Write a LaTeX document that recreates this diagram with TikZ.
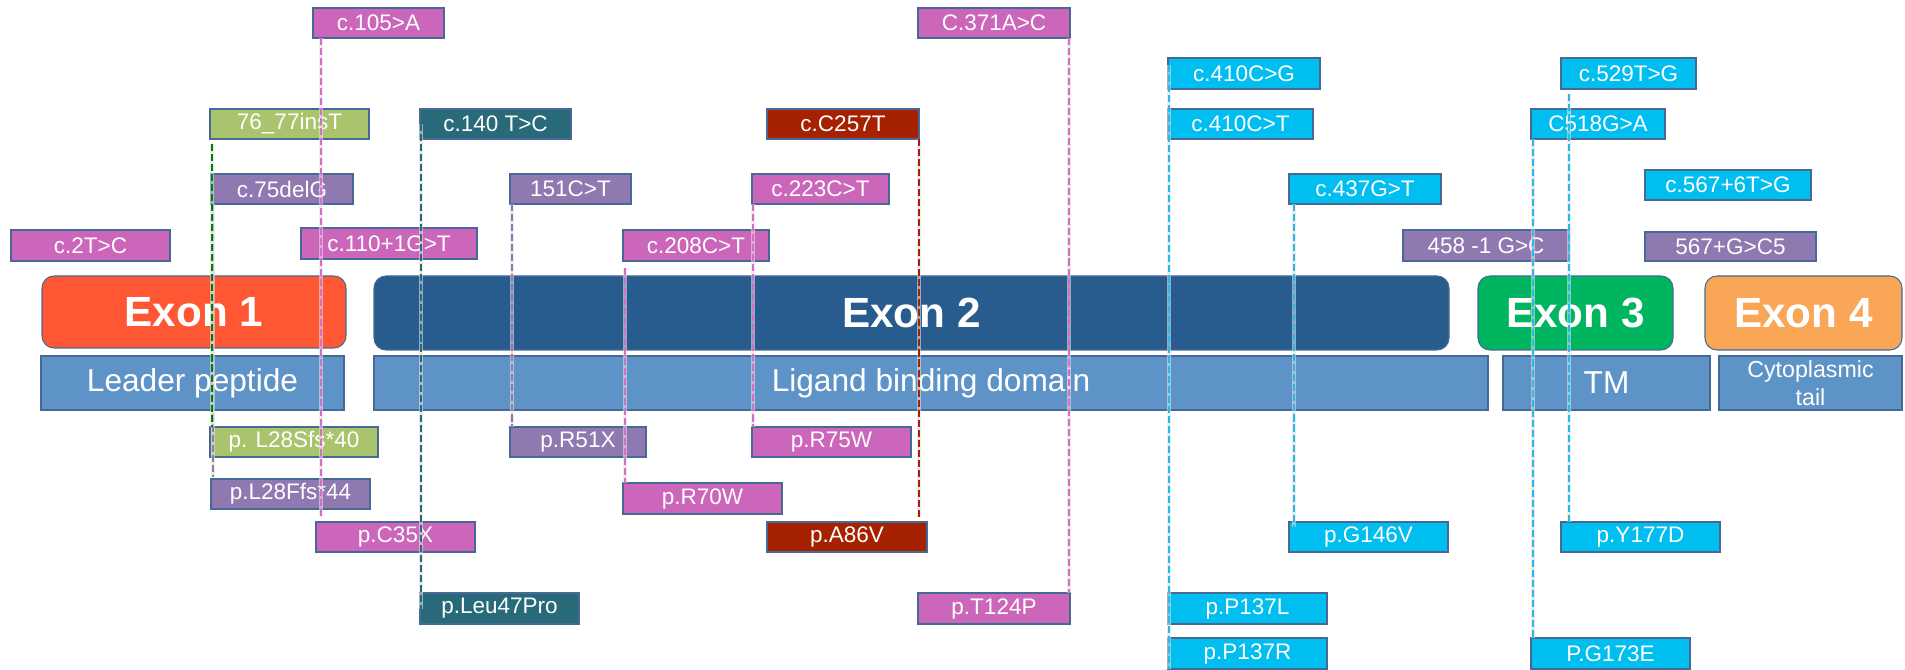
\documentclass[tikz,border=0pt]{standalone}
\usepackage{fontspec}
\setmainfont{Liberation Sans}
\definecolor{mag}{RGB}{204,102,187}
\definecolor{pur}{RGB}{144,120,176}
\definecolor{grn}{RGB}{169,196,108}
\definecolor{tea}{RGB}{40,106,122}
\definecolor{dred}{RGB}{165,33,0}
\definecolor{cya}{RGB}{0,190,240}
\definecolor{bord}{RGB}{70,105,150}
\definecolor{exa}{RGB}{255,87,51}
\definecolor{exb}{RGB}{40,92,142}
\definecolor{exc}{RGB}{0,181,96}
\definecolor{exd}{RGB}{250,166,87}
\definecolor{dom}{RGB}{94,147,200}
\definecolor{lmag}{RGB}{214,110,200}
\definecolor{lcya}{RGB}{40,185,235}
\definecolor{lgrn}{RGB}{0,128,0}
\newcommand\bx[7]{\node[#2, minimum width={(#5-#3)*0.01cm}, minimum height={(#6-#4)*0.01cm}, anchor=north west] (#1) at (#3,#4) {#7};}
\tikzset{
  lab/.style={draw=bord, line width=0.3pt, inner sep=0pt, outer sep=0pt, text=white, font=\fontsize{6.4}{7.5}\selectfont},
  exonbox/.style={draw=bord, line width=0.3pt, inner sep=0pt, outer sep=0pt, rounded corners=0.12cm, text=white, font=\fontsize{12}{14}\selectfont\bfseries},
  dombox/.style={draw=bord, line width=0.3pt, fill=dom, inner sep=0pt, outer sep=0pt, text=white, font=\fontsize{9}{10}\selectfont, align=center},
  dl/.style={line width=0.6pt, dash pattern=on 2pt off 0.85pt, preaction={draw=gray!25, line width=1.4pt, solid, opacity=0.6}}
}
\begin{document}
\begin{tikzpicture}[x=0.01cm, y=-0.01cm]
\useasboundingbox (0,0) rectangle (1905,670);
% top labels
\bx{c105}{lab,fill=mag}{313}{8}{444}{38}{c.105>A}
\bx{ins}{lab,fill=grn}{210}{109}{369}{139}{76\_77insT}
\bx{c140}{lab,fill=tea}{420}{109}{571}{139}{c.140 T>C}
\bx{c75}{lab,fill=pur}{211}{174}{353}{204}{c.75delG}
\bx{c151}{lab,fill=pur}{510}{174}{631}{204}{151C>T}
\bx{c2}{lab,fill=mag}{11}{230}{170}{261}{c.2T>C}
\bx{c110}{lab,fill=mag}{301}{228}{477}{259}{c.110+1G>T}
\bx{c208}{lab,fill=mag}{623}{230}{769}{261}{c.208C>T}
\bx{c223}{lab,fill=mag}{752}{174}{889}{204}{c.223C>T}
\bx{c257}{lab,fill=dred}{767}{109}{919}{139}{c.C257T}
\bx{c371}{lab,fill=mag}{918}{8}{1070}{38}{C.371A>C}
\bx{c410g}{lab,fill=cya}{1168}{58}{1320}{89}{c.410C>G}
\bx{c410t}{lab,fill=cya}{1168}{109}{1313}{139}{c.410C>T}
\bx{c437}{lab,fill=cya}{1289}{174}{1441}{204}{c.437G>T}
\bx{c458}{lab,fill=pur}{1403}{230}{1569}{261}{458 -1 G>C}
\bx{c518}{lab,fill=cya}{1531}{109}{1665}{139}{C518G>A}
\bx{c529}{lab,fill=cya}{1561}{58}{1696}{89}{c.529T>G}
\bx{c567a}{lab,fill=cya}{1645}{170}{1811}{200}{c.567+6T>G}
\bx{c567b}{lab,fill=pur}{1645}{232}{1816}{261}{567+G>C5}
% exons
\bx{ex1}{exonbox,fill=exa}{42}{276}{346}{348}{Exon 1}
\bx{ex2}{exonbox,fill=exb}{374}{276}{1449}{350}{Exon 2}
\bx{ex3}{exonbox,fill=exc}{1478}{276}{1673}{350}{Exon 3}
\bx{ex4}{exonbox,fill=exd}{1705}{276}{1902}{350}{Exon 4}
% domains
\bx{lp}{dombox}{41}{356}{344}{410}{Leader peptide}
\bx{lbd}{dombox}{374}{356}{1488}{410}{Ligand binding domain}
\bx{tm}{dombox}{1503}{356}{1710}{410}{TM}
\bx{ct}{dombox,font=\fontsize{6.6}{8}\selectfont}{1719}{356}{1902}{410}{Cytoplasmic\\tail}
% bottom labels
\bx{pL28S}{lab,fill=grn}{210}{427}{378}{457}{p. L28Sfs*40}
\bx{pL28F}{lab,fill=pur}{211}{479}{370}{509}{p.L28Ffs*44}
\bx{pC35X}{lab,fill=mag}{316}{522}{475}{552}{p.C35X}
\bx{pLeu}{lab,fill=tea}{420}{593}{579}{624}{p.Leu47Pro}
\bx{pR51X}{lab,fill=pur}{510}{427}{646}{457}{p.R51X}
\bx{pR70W}{lab,fill=mag}{623}{483}{782}{514}{p.R70W}
\bx{pR75W}{lab,fill=mag}{752}{427}{911}{457}{p.R75W}
\bx{pA86V}{lab,fill=dred}{767}{522}{927}{552}{p.A86V}
\bx{pT124P}{lab,fill=mag}{918}{593}{1070}{624}{p.T124P}
\bx{pP137L}{lab,fill=cya}{1168}{593}{1327}{624}{p.P137L}
\bx{pP137R}{lab,fill=cya}{1168}{638}{1327}{669}{p.P137R}
\bx{pG146V}{lab,fill=cya}{1289}{522}{1448}{552}{p.G146V}
\bx{pY177D}{lab,fill=cya}{1561}{522}{1720}{552}{p.Y177D}
\bx{pG173E}{lab,fill=cya}{1531}{638}{1690}{669}{P.G173E}
% line x positions
\coordinate (xa) at (213,0);
\coordinate (xb) at (212,0);
\coordinate (xc) at (321,0);
\coordinate (xd) at (421,0);
\coordinate (xe) at (512,0);
\coordinate (xf) at (625,0);
\coordinate (xg) at (753,0);
\coordinate (xh) at (919,0);
\coordinate (xi) at (1069,0);
\coordinate (xj) at (1169,0);
\coordinate (xk) at (1294,0);
\coordinate (xl) at (1533,0);
\coordinate (xm) at (1569,0);
% connectors
\draw[dl, draw=pur] (c75.south -| xa) -- ([yshift=0.02cm]pL28F.north -| xa);
\draw[dl, draw=lgrn, shorten <=0.05cm] (ins.south -| xb) -- (pL28S.north -| xb);
\draw[dl, draw=lmag] (c105.south -| xc) -- ([yshift=0.05cm]pC35X.north -| xc);
\draw[dl, draw=tea] (c140.west -| xd) -- (pLeu.west -| xd);
\draw[dl, draw=pur] (c151.south -| xe) -- (pR51X.north -| xe);
\draw[dl, draw=lmag, shorten <=0.07cm] (c208.south -| xf) -- (pR70W.north -| xf);
\draw[dl, draw=lmag] (c223.south -| xg) -- (pR75W.north -| xg);
\draw[dl, draw=dred] (c257.south -| xh) -- ([yshift=0.05cm]pA86V.north -| xh);
\draw[dl, draw=lmag] (c371.south -| xi) -- (pT124P.north -| xi);
\draw[dl, draw=lcya, shorten <=0.07cm] (c410g.north -| xj) -- (pP137R.south -| xj);
\draw[dl, draw=lcya] (c437.south -| xk) -- ([yshift=-0.05cm]pG146V.north -| xk);
\draw[dl, draw=lcya] (c518.south -| xl) -- (pG173E.north -| xl);
\draw[dl, draw=lcya, shorten <=0.05cm] (c529.south -| xm) -- (pY177D.north -| xm);
\end{tikzpicture}
\end{document}
